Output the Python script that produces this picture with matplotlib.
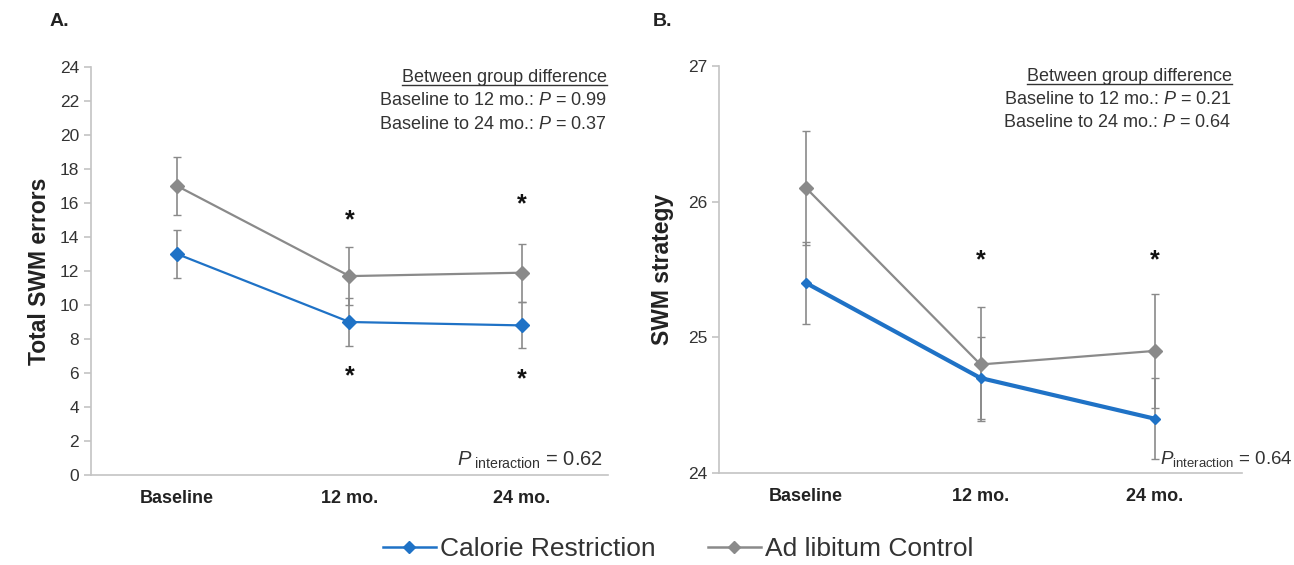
import matplotlib
matplotlib.use("Agg")
import matplotlib.pyplot as plt
from matplotlib.lines import Line2D

plt.rcParams['font.family'] = ['Liberation Sans', 'DejaVu Sans']
plt.rcParams['mathtext.fontset'] = 'custom'
plt.rcParams['mathtext.rm'] = 'Liberation Sans'
plt.rcParams['mathtext.it'] = 'Liberation Sans:italic'

timepoints = ["Baseline", "12 mo.", "24 mo."]

# panel A: total SWM errors
errors_cr = [13.0, 9.0, 8.8]
errors_cr_se = [1.4, 1.4, 1.35]
errors_al = [17.0, 11.7, 11.9]
errors_al_se = [1.7, 1.7, 1.7]
stars_a_x = [1, 1, 2, 2]
stars_a_y = [15.0, 5.8, 15.9, 5.6]
pvals_a = ["0.99", "0.37"]
p_inter_a = "0.62"

# panel B: SWM strategy
strategy_cr = [25.4, 24.7, 24.4]
strategy_cr_se = [0.3, 0.3, 0.3]
strategy_al = [26.1, 24.8, 24.9]
strategy_al_se = [0.42, 0.42, 0.42]
stars_b_x = [1, 2]
stars_b_y = [25.57, 25.57]
pvals_b = ["0.21", "0.64"]
p_inter_b = "0.64"

blue = "#1f72c6"
grey = "#8a8a8a"
text_col = "#333333"
spine_col = "#c4c4c4"

fig = plt.figure(figsize=(12.94, 5.65), dpi=100)
W, H = 1294, 565


def make_axes(left, right, top, bottom):
    return fig.add_axes([left / W, 1 - bottom / H, (right - left) / W, (bottom - top) / H])


def style(ax):
    for s in ['top', 'right']:
        ax.spines[s].set_visible(False)
    for s in ['left', 'bottom']:
        ax.spines[s].set_color(spine_col)
        ax.spines[s].set_linewidth(1.2)
    ax.tick_params(axis='y', colors=spine_col, labelcolor=text_col, labelsize=12.5, length=5, width=1.2)
    ax.tick_params(axis='x', length=0, pad=11, labelsize=13, labelcolor='#222222')
    ax.set_xticks(range(len(timepoints)))
    ax.set_xticklabels(timepoints, fontweight='bold')
    ax.set_xlim(-0.5, 2.5)


def group_text(ax, x_right, pvals):
    t = ax.text(x_right, 0.975, "Between group difference", transform=ax.transAxes,
                ha='right', va='center', fontsize=13, color=text_col)
    ax.text(x_right, 0.917, "Baseline to 12 mo.: $\\mathit{P}$ = " + pvals[0], transform=ax.transAxes,
            ha='right', va='center', fontsize=13, color=text_col)
    ax.text(x_right, 0.86, "Baseline to 24 mo.: $\\mathit{P}$ = " + pvals[1], transform=ax.transAxes,
            ha='right', va='center', fontsize=13, color=text_col)
    return t


# ---------------- panel A ----------------
ax1 = make_axes(91, 608, 67, 475)
style(ax1)
x = range(len(timepoints))
ax1.errorbar(x, errors_al, yerr=errors_al_se, color=grey, marker='D', markersize=7,
             lw=1.6, ecolor=grey, elinewidth=1.2, capsize=3, zorder=3)
ax1.errorbar(x, errors_cr, yerr=errors_cr_se, color=blue, marker='D', markersize=7,
             lw=1.6, ecolor=grey, elinewidth=1.2, capsize=3, zorder=4)
ax1.set_ylim(0, 24)
ax1.set_yticks(range(0, 25, 2))
ax1.set_ylabel("Total SWM errors", fontsize=16.5, fontweight='bold', color='#222222', labelpad=6)
for sx, sy in zip(stars_a_x, stars_a_y):
    ax1.text(sx, sy, "*", ha='center', va='center', fontsize=18, fontweight='bold', color='#111111')
u1 = group_text(ax1, 0.998, pvals_a)
ax1.text(0.99, 0.035, "$\\mathit{P}_{\\ \\mathrm{interaction}}$ = " + p_inter_a, transform=ax1.transAxes,
         ha='right', va='center', fontsize=14.5, color=text_col)
fig.text(50 / W, 1 - 22 / H, "A.", fontsize=14, fontweight='bold', color='#222222', va='center')

# ---------------- panel B ----------------
ax2 = make_axes(719, 1242, 66, 473)
style(ax2)
ax2.errorbar(x, strategy_al, yerr=strategy_al_se, color=grey, marker='D', markersize=7.5,
             lw=1.6, ecolor=grey, elinewidth=1.2, capsize=3, zorder=3)
ax2.errorbar(x, strategy_cr, yerr=strategy_cr_se, color=blue, marker='D', markersize=5,
             lw=3, ecolor=grey, elinewidth=1.2, capsize=3, zorder=4)
ax2.set_ylim(24, 27)
ax2.set_yticks([24, 25, 26, 27])
ax2.set_ylabel("SWM strategy", fontsize=16.5, fontweight='bold', color='#222222', labelpad=10)
for sx, sy in zip(stars_b_x, stars_b_y):
    ax2.text(sx, sy, "*", ha='center', va='center', fontsize=18, fontweight='bold', color='#111111')
u2 = group_text(ax2, 0.98, pvals_b)
ax2.text(2.03, 24.1, "$\\mathit{P}_{\\mathrm{interaction}}$ = " + p_inter_b,
         ha='left', va='center', fontsize=13.5, color=text_col, clip_on=False)
fig.text(653 / W, 1 - 22 / H, "B.", fontsize=14, fontweight='bold', color='#222222', va='center')

# underline the "Between group difference" headers
fig.canvas.draw()
for t in [u1, u2]:
    bb = t.get_window_extent()
    fig.add_artist(Line2D([bb.x0 / W, bb.x1 / W], [(bb.y0 + 0.5) / H, (bb.y0 + 0.5) / H],
                          color=text_col, lw=1.0, transform=fig.transFigure))

handles = [
    Line2D([], [], color=blue, marker='D', markersize=6, lw=1.8),
    Line2D([], [], color=grey, marker='D', markersize=6, lw=1.8),
]
fig.legend(handles, ["Calorie Restriction", "Ad libitum Control"], loc='center',
           bbox_to_anchor=(678 / W, 1 - 549 / H), ncol=2, frameon=False, fontsize=19,
           handlelength=2.0, handletextpad=0.15, columnspacing=2.0, labelcolor=text_col)

fig.savefig("out.png", dpi=100)
